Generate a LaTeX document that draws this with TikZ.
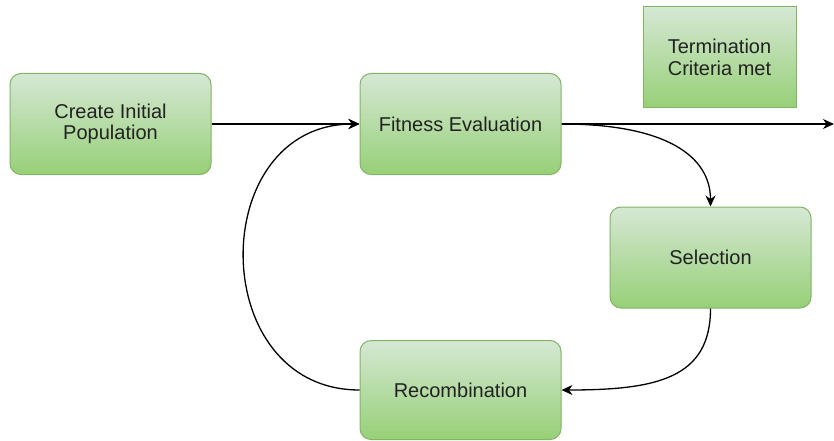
\documentclass[tikz,border=0pt]{standalone}
\usepackage{fontspec}
\setmainfont{Liberation Sans}
\usetikzlibrary{arrows.meta}
\definecolor{boxtop}{HTML}{D5E8D4}
\definecolor{boxbot}{HTML}{97D077}
\definecolor{boxline}{HTML}{82B366}
\definecolor{txt}{HTML}{222222}
\tikzset{
  stepbase/.style={draw=boxline, line width=1pt, top color=boxtop, bottom color=boxbot,
    align=center, text=txt, inner sep=0pt, font=\fontsize{20}{21.5}\selectfont},
  procbox/.style={stepbase, rounded corners=11pt, minimum width=201pt, minimum height=101pt},
  termbox/.style={stepbase, minimum width=153pt, minimum height=101pt},
  flow/.style={draw=black, line width=1.3pt, -{Stealth[length=11pt,width=10pt,inset=3.5pt]}},
}
\begin{document}
\begin{tikzpicture}[x=1pt,y=-1pt]
  \useasboundingbox (0,0) rectangle (834,441);

  % process steps
  \node[procbox] (init) at (110.5,124) {Create Initial\\Population};
  \node[procbox] (fit)  at (460.5,124) {Fitness Evaluation};
  \node[procbox] (sel)  at (710.5,257.5) {Selection};
  \node[procbox, minimum height=99pt] (rec) at (460.5,390) {Recombination};
  \node[termbox] (term) at (719.5,57.5) {Termination\\Criteria met};

  % exit point on the right border
  \coordinate (exit) at (834,124);

  % connectors
  \draw[flow] (init.east) -- (fit.west);
  \draw[flow] (fit.east) -- (exit);
  \draw[flow] (fit.east) .. controls +(105,0) and +(0,-50) .. (sel.north);
  \draw[flow] (sel.south) .. controls +(0,70) and +(95,0) .. (rec.east);
  \draw[flow] (rec.west) .. controls +(-154,0) and +(-154,0) .. (fit.west);
\end{tikzpicture}
\end{document}
